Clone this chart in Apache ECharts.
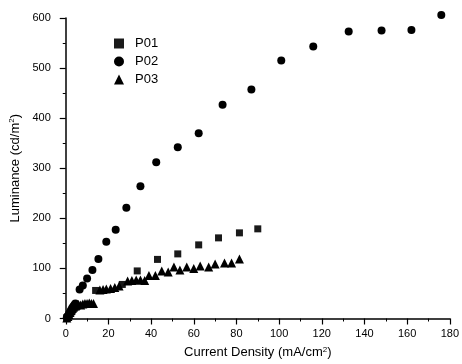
<!DOCTYPE html>
<html>
<head>
<meta charset="utf-8">
<script src="https://cdn.jsdelivr.net/npm/echarts@6/dist/echarts.min.js"></script>
<style>
  html, body { margin: 0; padding: 0; background: #fff; }
  #main { width: 462px; height: 364px; }
</style>
</head>
<body>
<div id="main"></div>
<script>
// data, [current density, luminance]
const p01 = [
    [0.5, 2], [1, 4], [1.5, 7], [2, 10], [2.5, 13], [3, 16], [3.5, 19], [4, 21], [5, 23],
    [14, 56], [26.5, 68], [33.5, 95], [43, 118], [52.5, 129], [62.3, 147],
    [71.6, 161], [81.4, 171], [90, 179]
];
const p02 = [
    [0.5, 2], [1, 5], [1.5, 9], [2, 13], [2.5, 17], [3, 21], [3.5, 24], [4, 27], [4.5, 30],
    [6.5, 58], [8, 66], [10, 80], [12.5, 97], [15.3, 119], [19, 153], [23.4, 177],
    [28.4, 221], [35, 264], [42.4, 312], [52.5, 342], [62.3, 370], [73.5, 427],
    [87, 457], [101, 515], [116, 543], [132.6, 573], [148, 575], [162, 576], [176, 606]
];
const p03 = [
    [0.5, 1], [1, 4], [1.5, 8], [2, 12], [2.5, 16], [3, 20], [3.5, 23], [4, 25],
    [5, 27], [6, 28], [7, 27], [8, 29], [9, 30], [10, 30], [11, 31], [12, 30], [13, 30],
    [16, 57], [17.5, 58], [19, 59], [21, 60], [23, 62], [25, 65],
    [29, 75], [31, 76], [33, 77], [35, 77], [37, 76], [39, 86], [42, 86], [45, 95],
    [48, 93], [50.7, 103], [53.5, 97], [56.7, 103], [60, 100], [63, 105], [67, 103],
    [70, 109], [74.4, 111], [77.7, 111], [81.4, 119]
];
const seriesNames = ['P01', 'P02', 'P03'];

const chart = echarts.init(document.getElementById('main'));
const font = 'Liberation Sans, Arial, sans-serif';
const axisCommon = {
    axisLine: { lineStyle: { color: '#000', width: 1.5 } },
    axisTick: { inside: false, length: 6, lineStyle: { color: '#000', width: 1.2 } },
    minorTick: { show: true, splitNumber: 2, length: 3, lineStyle: { color: '#000' } },
    splitLine: { show: false },
    axisLabel: { color: '#000', fontSize: 11, fontFamily: font },
    nameTextStyle: {
        color: '#000', fontSize: 13, fontFamily: font,
        rich: { sup: { fontSize: 8, verticalAlign: 'top', padding: [0, 0, 6, 0], color: '#000' } }
    }
};

chart.setOption({
    animation: false,
    backgroundColor: '#fff',
    grid: { left: 64, right: 9, top: 18, bottom: 44 },
    legend: {
        orient: 'vertical', left: 109, top: 32, itemGap: 5,
        itemWidth: 10, itemHeight: 10,
        textStyle: { color: '#000', fontSize: 13, fontFamily: font, padding: [0, 0, 0, 6] },
        data: seriesNames
    },
    xAxis: Object.assign({}, axisCommon, {
        type: 'value', min: 0, max: 180, interval: 20,
        axisLabel: Object.assign({}, axisCommon.axisLabel, { margin: 10 }),
        name: 'Current Density (mA/cm{sup|2})',
        nameLocation: 'middle', nameGap: 27
    }),
    yAxis: Object.assign({}, axisCommon, {
        type: 'value', min: 0, max: 600, interval: 100,
        axisLabel: Object.assign({}, axisCommon.axisLabel, { margin: 15 }),
        name: 'Luminance (cd/m{sup|2})',
        nameLocation: 'middle', nameGap: 36
    }),
    series: [
        { name: 'P01', type: 'scatter', symbol: 'rect', symbolSize: 7, clip: false,
          itemStyle: { color: '#1a1a1a', opacity: 1 }, data: p01 },
        { name: 'P02', type: 'scatter', symbol: 'circle', symbolSize: 8, clip: false,
          itemStyle: { color: '#000', opacity: 1 }, data: p02 },
        { name: 'P03', type: 'scatter', symbol: 'triangle', symbolSize: 9, clip: false,
          itemStyle: { color: '#000', opacity: 1 }, data: p03 }
    ]
});
</script>
</body>
</html>
